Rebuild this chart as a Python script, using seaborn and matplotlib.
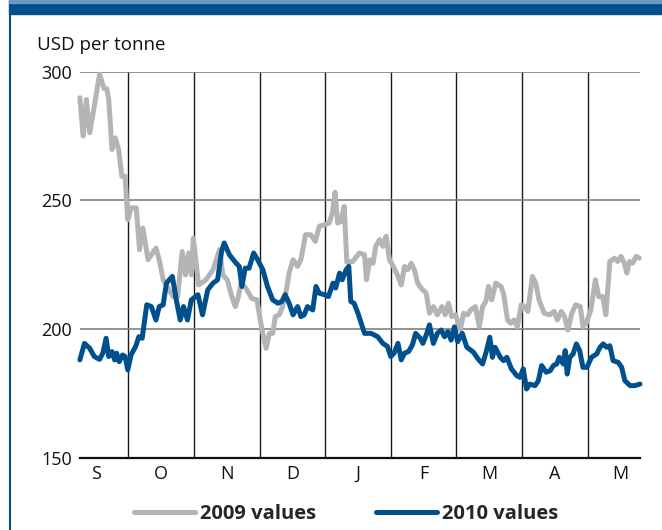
import numpy as np
import pandas as pd
import matplotlib
matplotlib.use("Agg")
import matplotlib.pyplot as plt
from matplotlib.patches import Rectangle
from matplotlib.lines import Line2D
import seaborn as sns

# x position = months since 1 September (month columns drawn with equal width)
month_labels = ["S", "O", "N", "D", "J", "F", "M", "A", "M"]
series_names = ["2009 values", "2010 values"]
series_colors = ["#b3b4b6", "#00508e"]

months_2009 = [0.26, 0.31, 0.36, 0.41, 0.48, 0.56, 0.63, 0.67, 0.70, 0.75, 0.80, 0.85,
               0.90, 0.95, 0.99, 1.04, 1.12, 1.17, 1.22, 1.30, 1.42, 1.47, 1.53, 1.68,
               1.75, 1.82, 1.87, 1.92, 1.96, 1.99, 2.07, 2.18, 2.29, 2.39, 2.44, 2.51,
               2.56, 2.63, 2.67, 2.72, 2.79, 2.88, 2.96, 3.01, 3.05, 3.10, 3.15, 3.20,
               3.24, 3.30, 3.35, 3.40, 3.45, 3.51, 3.58, 3.63, 3.70, 3.78, 3.85, 3.91,
               3.99, 4.06, 4.11, 4.15, 4.19, 4.24, 4.29, 4.33, 4.42, 4.52, 4.60, 4.63,
               4.68, 4.73, 4.77, 4.83, 4.88, 4.93, 4.98, 5.04, 5.11, 5.16, 5.21, 5.26,
               5.31, 5.36, 5.41, 5.46, 5.54, 5.59, 5.65, 5.71, 5.78, 5.83, 5.88, 5.93,
               5.99, 6.06, 6.11, 6.17, 6.22, 6.29, 6.35, 6.40, 6.45, 6.49, 6.54, 6.60,
               6.68, 6.72, 6.78, 6.83, 6.88, 6.93, 6.99, 7.04, 7.09, 7.16, 7.21, 7.26,
               7.34, 7.42, 7.49, 7.54, 7.60, 7.65, 7.70, 7.76, 7.82, 7.89, 7.93, 7.98,
               8.05, 8.12, 8.17, 8.23, 8.28, 8.34, 8.41, 8.46, 8.51, 8.56, 8.60, 8.64,
               8.69, 8.74, 8.79]
usd_2009 = [289.9, 275.0, 289.2, 276.3, 286.6, 299.0, 293.4, 293.4, 289.2, 269.8, 274.3, 269.8,
            259.4, 259.4, 242.5, 247.1, 247.1, 230.9, 239.3, 227.0, 231.5, 227.0, 219.2, 212.7,
            212.7, 230.2, 221.1, 229.6, 221.1, 235.4, 217.2, 219.1, 223.1, 230.9, 221.1, 219.1,
            214.0, 208.8, 212.0, 218.0, 216.0, 212.0, 211.4, 203.6, 198.4, 192.6, 198.4, 198.4,
            204.9, 205.6, 208.8, 214.0, 221.8, 227.0, 224.4, 227.0, 236.7, 236.7, 234.1, 240.0,
            240.6, 241.2, 245.1, 253.2, 241.2, 241.9, 247.7, 226.0, 226.3, 229.6, 228.9, 219.2,
            226.9, 225.6, 232.2, 234.8, 232.2, 236.1, 226.9, 224.4, 220.5, 217.2, 224.4, 223.1,
            225.6, 223.1, 217.9, 216.0, 214.0, 206.2, 208.8, 205.6, 208.8, 205.6, 210.1, 204.9,
            205.6, 199.7, 206.2, 205.6, 207.5, 208.8, 201.0, 208.8, 210.8, 216.6, 211.4, 217.9,
            216.6, 213.8, 203.6, 202.3, 203.6, 201.0, 209.5, 208.8, 206.9, 220.5, 217.9, 211.4,
            206.2, 205.6, 206.9, 203.6, 206.9, 204.9, 199.7, 206.2, 209.5, 208.8, 201.0, 202.3,
            207.5, 219.2, 212.7, 212.7, 205.6, 226.3, 227.6, 226.3, 228.3, 225.7, 221.8, 226.3,
            225.7, 228.3, 227.6]

months_2010 = [0.26, 0.33, 0.41, 0.48, 0.56, 0.61, 0.66, 0.70, 0.75, 0.79, 0.82, 0.86,
               0.91, 0.95, 0.99, 1.04, 1.11, 1.16, 1.21, 1.28, 1.35, 1.42, 1.47, 1.53,
               1.58, 1.67, 1.73, 1.79, 1.84, 1.90, 1.96, 2.06, 2.13, 2.21, 2.29, 2.36,
               2.42, 2.46, 2.54, 2.64, 2.69, 2.73, 2.78, 2.84, 2.91, 2.97, 3.05, 3.12,
               3.20, 3.28, 3.34, 3.39, 3.45, 3.51, 3.58, 3.63, 3.68, 3.73, 3.81, 3.86,
               3.91, 3.99, 4.05, 4.12, 4.16, 4.22, 4.26, 4.32, 4.36, 4.39, 4.44, 4.50,
               4.55, 4.60, 4.70, 4.80, 4.88, 4.95, 5.00, 5.05, 5.11, 5.16, 5.21, 5.27,
               5.33, 5.38, 5.45, 5.49, 5.55, 5.59, 5.65, 5.71, 5.77, 5.82, 5.87, 5.92,
               5.97, 6.02, 6.09, 6.16, 6.26, 6.33, 6.40, 6.46, 6.51, 6.55, 6.59, 6.67,
               6.72, 6.77, 6.84, 6.92, 6.97, 7.02, 7.07, 7.12, 7.20, 7.25, 7.30, 7.37,
               7.43, 7.48, 7.53, 7.57, 7.63, 7.66, 7.69, 7.73, 7.78, 7.83, 7.88, 7.93,
               7.99, 8.06, 8.14, 8.19, 8.24, 8.29, 8.34, 8.39, 8.47, 8.52, 8.57, 8.65,
               8.72, 8.80]
usd_2010 = [188.1, 194.5, 192.6, 189.4, 188.3, 190.7, 196.5, 189.4, 191.3, 188.1, 190.7, 187.4,
            190.0, 189.4, 184.2, 190.0, 193.3, 197.1, 196.5, 209.5, 208.8, 203.6, 208.8, 209.5,
            217.9, 220.5, 211.4, 203.6, 208.8, 203.6, 211.4, 213.4, 205.6, 215.3, 217.9, 219.2,
            230.2, 233.5, 228.9, 225.7, 224.4, 216.6, 223.7, 223.7, 229.6, 227.0, 223.1, 216.6,
            211.4, 210.1, 210.8, 213.4, 210.1, 205.6, 208.8, 204.9, 205.6, 208.8, 207.5, 216.6,
            214.0, 213.4, 212.7, 217.9, 216.0, 221.8, 219.2, 223.1, 224.4, 210.8, 210.1, 206.2,
            202.3, 198.4, 198.4, 197.1, 194.5, 193.3, 189.4, 190.7, 194.5, 188.1, 190.7, 191.3,
            193.9, 198.4, 196.5, 194.5, 198.4, 201.7, 194.5, 198.4, 199.7, 197.1, 199.1, 195.8,
            200.9, 195.2, 198.4, 193.0, 191.1, 188.5, 186.5, 191.7, 196.9, 189.1, 193.0, 189.1,
            187.8, 189.1, 184.6, 182.0, 181.3, 184.6, 176.8, 178.7, 178.1, 180.0, 185.9, 183.3,
            183.9, 185.9, 186.5, 189.1, 186.5, 191.7, 182.6, 189.1, 190.4, 194.3, 191.7, 185.2,
            185.2, 189.1, 190.4, 193.0, 194.3, 193.0, 193.6, 187.8, 187.1, 185.2, 180.0, 178.1,
            178.1, 178.7]

df = pd.concat([
    pd.DataFrame({"month": months_2009, "usd": usd_2009, "series": series_names[0]}),
    pd.DataFrame({"month": months_2010, "usd": usd_2010, "series": series_names[1]}),
], ignore_index=True)

sns.set_theme(style="white")
plt.rcParams["font.family"] = ["Open Sans", "DejaVu Sans"]

W, H = 662, 530
fig = plt.figure(figsize=(W / 100, H / 100), dpi=100)
ax = fig.add_axes([80 / W, 1 - 458 / H, 560 / W, (458 - 71.7) / H])

sns.lineplot(data=df, x="month", y="usd", hue="series", hue_order=series_names,
             palette=series_colors, estimator=None, sort=False, legend=False,
             lw=3.6, solid_joinstyle="round", solid_capstyle="round", ax=ax)
for line in ax.lines:
    line.set_clip_on(False)

ax.set_xlim(0.262, 8.80)
ax.set_ylim(150, 300)
ax.set_yticks([150, 200, 250, 300])
ax.set_xticks(range(1, 9))
ax.set_xticklabels([])
ax.set_xticks(np.arange(0.5, 9, 1), minor=True)
ax.set_xticklabels(month_labels, minor=True)
ax.set_xlabel("")
ax.set_ylabel("")

ax.tick_params(axis="x", which="major", length=9.5, width=1, color="#1a1a1a", direction="out")
ax.tick_params(axis="x", which="minor", length=0, pad=5, labelsize=13, labelcolor="#111")
ax.tick_params(axis="y", length=0, pad=6, labelsize=13, labelcolor="#111")

ax.set_axisbelow(True)
ax.grid(axis="y", color="#808080", lw=1.2)
ax.grid(axis="x", which="major", color="#1a1a1a", lw=1)
for side in ["top", "right", "left"]:
    ax.spines[side].set_visible(False)
ax.spines["bottom"].set_color("#111")
ax.spines["bottom"].set_linewidth(1.6)

fig.text(37 / W, 1 - 45 / H, "USD per tonne", fontsize=13.5, va="center", color="#111")

# blue header band and left frame line
fig.patches.append(Rectangle((9 / W, 1 - 14 / H), 1, 14 / H, transform=fig.transFigure,
                             color="#00508e", zorder=0))
fig.patches.append(Rectangle((9 / W, 1 - 3 / H), 1, 3 / H, transform=fig.transFigure,
                             color="#6a9ac4", zorder=1))
fig.lines.append(Line2D([9.5 / W, 9.5 / W], [0, 1 - 14 / H], transform=fig.transFigure,
                        color="#00508e", lw=1.5))

handles = [Line2D([], [], color=c, lw=3.6, solid_capstyle="round") for c in series_colors]
fig.legend(handles, series_names, loc="center", bbox_to_anchor=(346 / W, 1 - 514 / H),
           ncol=2, frameon=False, handlelength=3.0, handletextpad=0.25, columnspacing=3.0,
           prop={"weight": "bold", "size": 14.5})

fig.savefig("out.png", dpi=100)
